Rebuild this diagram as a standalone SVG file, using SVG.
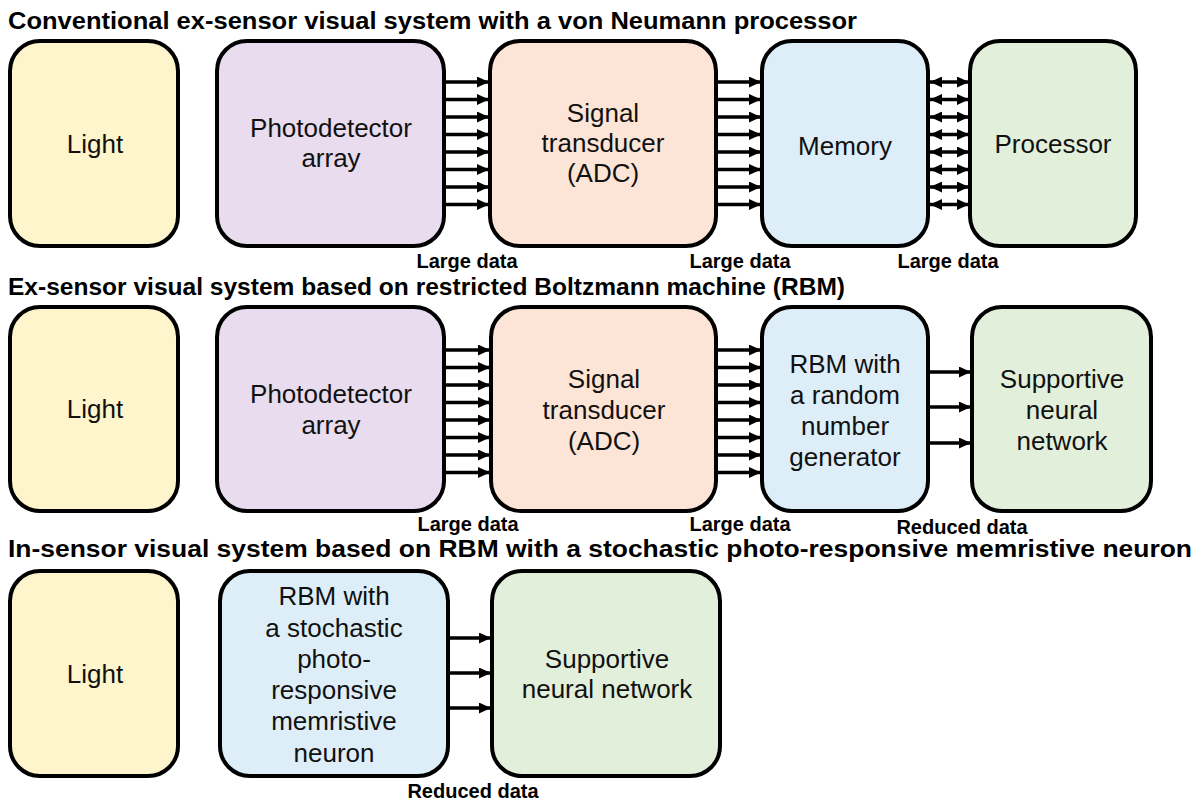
<svg xmlns="http://www.w3.org/2000/svg" width="1197" height="805" viewBox="0 0 1197 805">
  <style>
    .title { font-family: "Liberation Sans", Arial, sans-serif; font-weight: bold; font-size: 23.5px; fill: #000; }
    .label { font-family: "Liberation Sans", Arial, sans-serif; font-size: 26px; fill: #111; text-anchor: middle; }
    .data { font-family: "Liberation Sans", Arial, sans-serif; font-weight: bold; font-size: 20px; fill: #000; text-anchor: middle; }
    .box { stroke: #000; stroke-width: 4; }
    .yellow { fill: #FFF5CC; }
    .purple { fill: #E8DCEE; }
    .orange { fill: #FCE4D6; }
    .blue { fill: #DDEEF8; }
    .green { fill: #E2EFDA; }
    .arrow { stroke: #000; stroke-width: 3.5; fill: none; marker-end: url(#head); }
    .biarrow { stroke: #000; stroke-width: 3.5; fill: none; marker-end: url(#head); marker-start: url(#head); }
  </style>
  <defs>
    <marker id="head" markerUnits="userSpaceOnUse" markerWidth="12" markerHeight="11" refX="12" refY="5.5" orient="auto-start-reverse">
      <path d="M0,0 L12,5.5 L0,11 z" fill="#000"/>
    </marker>
  </defs>

  <rect width="1197" height="805" fill="#fff"/>

  <!-- Section titles -->
  <text class="title" x="8" y="29" textLength="849" lengthAdjust="spacingAndGlyphs">Conventional ex-sensor visual system with a von Neumann processor</text>
  <text class="title" x="8" y="295" textLength="837" lengthAdjust="spacingAndGlyphs">Ex-sensor visual system based on restricted Boltzmann machine (RBM)</text>
  <text class="title" x="8" y="557" textLength="1184" lengthAdjust="spacingAndGlyphs">In-sensor visual system based on RBM with a stochastic photo-responsive memristive neuron</text>

  <!-- Row 1: conventional pipeline -->
  <g id="light1">
    <rect class="box yellow" x="10" y="41" width="168" height="205" rx="30"/>
    <text class="label" x="95" y="153">Light</text>
  </g>
  <g id="photodetector1">
    <rect class="box purple" x="217" y="41" width="227" height="205" rx="30"/>
    <text class="label" x="331" y="137">Photodetector</text>
    <text class="label" x="331" y="167">array</text>
  </g>
  <g id="transducer1">
    <rect class="box orange" x="490" y="41" width="226" height="205" rx="30"/>
    <text class="label" x="603" y="122">Signal</text>
    <text class="label" x="603" y="152">transducer</text>
    <text class="label" x="603" y="182">(ADC)</text>
  </g>
  <g id="memory1">
    <rect class="box blue" x="762" y="41" width="166" height="205" rx="30"/>
    <text class="label" x="845" y="155">Memory</text>
  </g>
  <g id="processor1">
    <rect class="box green" x="970" y="41" width="166" height="205" rx="30"/>
    <text class="label" x="1053" y="153">Processor</text>
  </g>

  <!-- Row 2: RBM with a random number generator -->
  <g id="light2">
    <rect class="box yellow" x="10" y="307" width="168" height="204" rx="30"/>
    <text class="label" x="95" y="418">Light</text>
  </g>
  <g id="photodetector2">
    <rect class="box purple" x="217" y="307" width="227" height="204" rx="30"/>
    <text class="label" x="331" y="403">Photodetector</text>
    <text class="label" x="331" y="434">array</text>
  </g>
  <g id="transducer2">
    <rect class="box orange" x="491" y="307" width="225" height="204" rx="30"/>
    <text class="label" x="604" y="388">Signal</text>
    <text class="label" x="604" y="419">transducer</text>
    <text class="label" x="604" y="450">(ADC)</text>
  </g>
  <g id="rbm2">
    <rect class="box blue" x="762" y="307" width="166" height="204" rx="30"/>
    <text class="label" x="845" y="373">RBM with</text>
    <text class="label" x="845" y="404">a random</text>
    <text class="label" x="845" y="435">number</text>
    <text class="label" x="845" y="466">generator</text>
  </g>
  <g id="network2">
    <rect class="box green" x="972" y="307" width="179" height="204" rx="30"/>
    <text class="label" x="1062" y="388">Supportive</text>
    <text class="label" x="1062" y="419">neural</text>
    <text class="label" x="1062" y="450">network</text>
  </g>

  <!-- Row 3: in-sensor RBM -->
  <g id="light3">
    <rect class="box yellow" x="10" y="571" width="168" height="205" rx="30"/>
    <text class="label" x="95" y="683">Light</text>
  </g>
  <g id="rbm3">
    <rect class="box blue" x="220" y="571" width="228" height="205" rx="30"/>
    <text class="label" x="334" y="605">RBM with</text>
    <text class="label" x="334" y="637">a stochastic</text>
    <text class="label" x="334" y="668">photo-</text>
    <text class="label" x="334" y="699">responsive</text>
    <text class="label" x="334" y="730">memristive</text>
    <text class="label" x="334" y="762">neuron</text>
  </g>
  <g id="network3">
    <rect class="box green" x="492" y="571" width="228" height="205" rx="30"/>
    <text class="label" x="607" y="668">Supportive</text>
    <text class="label" x="607" y="698">neural network</text>
  </g>

  <!-- Connectors -->
  <g id="connectors">
    <!-- row 1: photodetector to transducer -->
    <line class="arrow" x1="446" y1="82" x2="489" y2="82"/>
    <line class="arrow" x1="446" y1="99.5" x2="489" y2="99.5"/>
    <line class="arrow" x1="446" y1="117" x2="489" y2="117"/>
    <line class="arrow" x1="446" y1="134.5" x2="489" y2="134.5"/>
    <line class="arrow" x1="446" y1="152" x2="489" y2="152"/>
    <line class="arrow" x1="446" y1="169.5" x2="489" y2="169.5"/>
    <line class="arrow" x1="446" y1="187" x2="489" y2="187"/>
    <line class="arrow" x1="446" y1="204.5" x2="489" y2="204.5"/>
    <!-- row 1: transducer to memory -->
    <line class="arrow" x1="718" y1="82" x2="761" y2="82"/>
    <line class="arrow" x1="718" y1="99.5" x2="761" y2="99.5"/>
    <line class="arrow" x1="718" y1="117" x2="761" y2="117"/>
    <line class="arrow" x1="718" y1="134.5" x2="761" y2="134.5"/>
    <line class="arrow" x1="718" y1="152" x2="761" y2="152"/>
    <line class="arrow" x1="718" y1="169.5" x2="761" y2="169.5"/>
    <line class="arrow" x1="718" y1="187" x2="761" y2="187"/>
    <line class="arrow" x1="718" y1="204.5" x2="761" y2="204.5"/>
    <!-- row 1: memory and processor, both ways -->
    <line class="biarrow" x1="930" y1="82" x2="969" y2="82"/>
    <line class="biarrow" x1="930" y1="99.5" x2="969" y2="99.5"/>
    <line class="biarrow" x1="930" y1="117" x2="969" y2="117"/>
    <line class="biarrow" x1="930" y1="134.5" x2="969" y2="134.5"/>
    <line class="biarrow" x1="930" y1="152" x2="969" y2="152"/>
    <line class="biarrow" x1="930" y1="169.5" x2="969" y2="169.5"/>
    <line class="biarrow" x1="930" y1="187" x2="969" y2="187"/>
    <line class="biarrow" x1="930" y1="204.5" x2="969" y2="204.5"/>

    <!-- row 2: photodetector to transducer -->
    <line class="arrow" x1="446" y1="350" x2="490" y2="350"/>
    <line class="arrow" x1="446" y1="367.5" x2="490" y2="367.5"/>
    <line class="arrow" x1="446" y1="385" x2="490" y2="385"/>
    <line class="arrow" x1="446" y1="402.5" x2="490" y2="402.5"/>
    <line class="arrow" x1="446" y1="420" x2="490" y2="420"/>
    <line class="arrow" x1="446" y1="437.5" x2="490" y2="437.5"/>
    <line class="arrow" x1="446" y1="455" x2="490" y2="455"/>
    <line class="arrow" x1="446" y1="472.5" x2="490" y2="472.5"/>
    <!-- row 2: transducer to RBM -->
    <line class="arrow" x1="718" y1="350" x2="761" y2="350"/>
    <line class="arrow" x1="718" y1="367.5" x2="761" y2="367.5"/>
    <line class="arrow" x1="718" y1="385" x2="761" y2="385"/>
    <line class="arrow" x1="718" y1="402.5" x2="761" y2="402.5"/>
    <line class="arrow" x1="718" y1="420" x2="761" y2="420"/>
    <line class="arrow" x1="718" y1="437.5" x2="761" y2="437.5"/>
    <line class="arrow" x1="718" y1="455" x2="761" y2="455"/>
    <line class="arrow" x1="718" y1="472.5" x2="761" y2="472.5"/>
    <!-- row 2: RBM to supportive network -->
    <line class="arrow" x1="930" y1="372" x2="971" y2="372"/>
    <line class="arrow" x1="930" y1="407" x2="971" y2="407"/>
    <line class="arrow" x1="930" y1="443" x2="971" y2="443"/>

    <!-- row 3: RBM to supportive network -->
    <line class="arrow" x1="450" y1="638" x2="491" y2="638"/>
    <line class="arrow" x1="450" y1="673" x2="491" y2="673"/>
    <line class="arrow" x1="450" y1="708" x2="491" y2="708"/>
  </g>

  <!-- Data volume labels -->
  <text class="data" x="467" y="268">Large data</text>
  <text class="data" x="740" y="268">Large data</text>
  <text class="data" x="948" y="268">Large data</text>
  <text class="data" x="468" y="531">Large data</text>
  <text class="data" x="740" y="531">Large data</text>
  <text class="data" x="962" y="534">Reduced data</text>
  <text class="data" x="473" y="798">Reduced data</text>
</svg>
